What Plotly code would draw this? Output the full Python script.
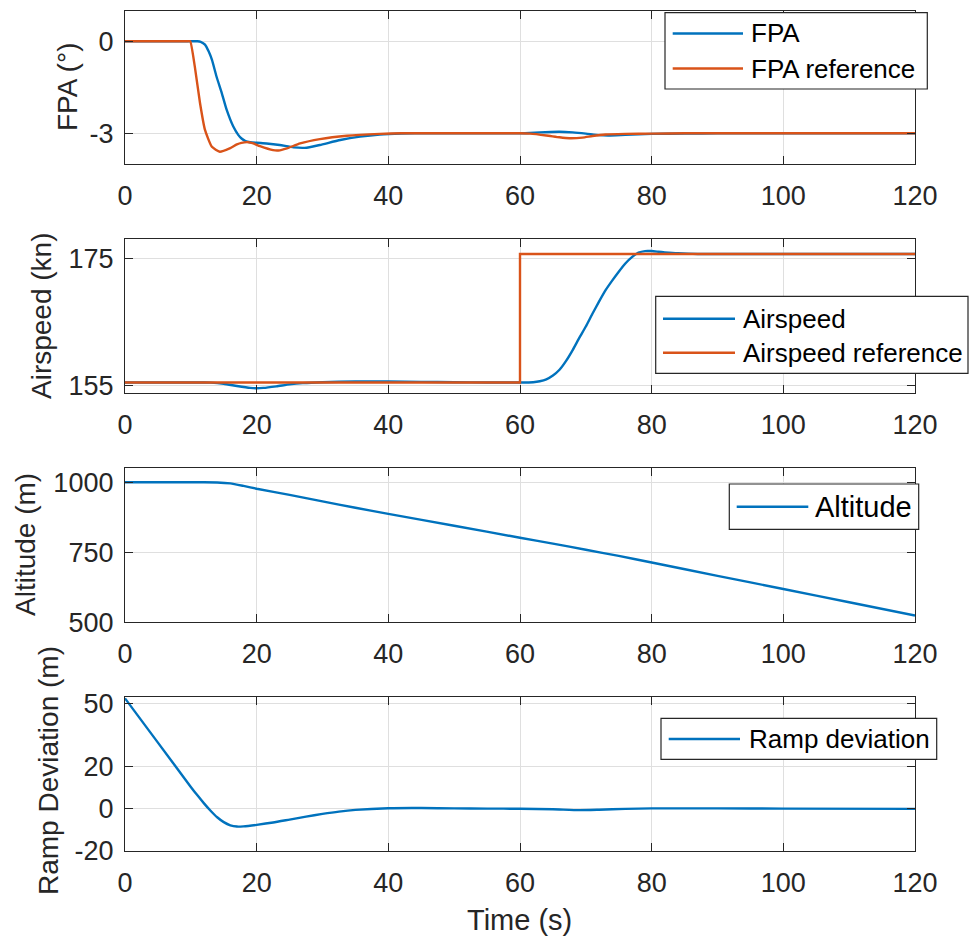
import plotly.graph_objects as go

# ---------------- data ----------------
fpa_t = [0, 5, 9, 10, 10.6, 11, 11.5, 12.15, 12.7, 13.2, 13.9, 14.7, 15.45, 16.45, 17.2, 17.7, 18.3, 19, 20, 21.5,
         23.5, 25.6, 27.6, 29.6, 32.7, 35.7, 38.7, 42, 46, 50, 55, 60, 61.5, 63, 66, 68, 70, 72, 73.5,
         76, 80, 85, 90, 100, 110, 120]
fpa_v = [0, 0, 0, 0, 0, 0, -0.02, -0.11, -0.33, -0.6, -1.15, -1.69, -2.24, -2.78, -3.05, -3.17, -3.25, -3.29,
         -3.31, -3.33, -3.38, -3.46, -3.47, -3.38, -3.22, -3.11, -3.04, -3.01, -3.0, -3.0, -3.0, -3.0,
         -2.99, -2.97, -2.95, -2.97, -3.01, -3.06, -3.07, -3.05, -3.02, -3.01, -3.0, -3.0, -3.0, -3.0]

fpa_ref_t = [0, 5, 9, 9.6, 9.9, 10.6, 11.4, 12.15, 13.2, 14.4, 15.9, 17.0, 17.7, 18.7, 19.5, 20.5, 22.5, 23.3,
             24.6, 26.6, 29.6, 33.7, 38.7, 42, 50, 55, 60, 61.5, 64, 66, 67.5, 69.5, 71, 73, 76, 80, 85,
             90, 100, 110, 120]
fpa_ref_v = [0, 0, 0, 0, 0, -0.82, -2.02, -2.89, -3.44, -3.6, -3.49, -3.36, -3.31, -3.29, -3.33, -3.42, -3.55,
             -3.56, -3.49, -3.33, -3.19, -3.08, -3.02, -3.0, -3.0, -3.0, -3.0, -3.01, -3.07, -3.13, -3.16,
             -3.14, -3.09, -3.04, -3.02, -3.01, -3.0, -3.0, -3.0, -3.0, -3.0]

as_t = [0, 6, 12, 13, 15, 17, 19, 20, 21, 23, 25, 27, 30, 35, 40, 45, 50, 55, 60, 62, 63, 64, 65, 66, 67,
        68, 69, 70, 71, 72, 73, 74, 75, 76, 77, 78, 79, 80, 81, 82, 84, 87, 95, 105, 120]
as_v = [155.5, 155.5, 155.5, 155.48, 155.3, 154.95, 154.65, 154.6, 154.65, 154.9, 155.2, 155.4, 155.55,
        155.65, 155.65, 155.6, 155.55, 155.5, 155.5, 155.55, 155.7, 156.0, 156.6, 157.5, 158.9, 160.6,
        162.5, 164.3, 166.3, 168.2, 170.0, 171.5, 172.9, 174.2, 175.2, 175.9, 176.15, 176.15, 176.05,
        175.95, 175.8, 175.7, 175.7, 175.7, 175.7]

as_ref_t = [0, 60, 60, 120]
as_ref_v = [155.5, 155.5, 175.7, 175.7]

alt_t = [0, 6, 12, 14, 16, 18, 20, 25, 30, 35, 40, 50, 60, 65, 70, 75, 80, 90, 100, 110, 120]
alt_v = [1000, 1000, 1000, 999.5, 996, 987, 977, 955, 932, 909, 887, 845, 802, 781, 759, 737, 713.5,
         666, 619, 571.5, 524]

ramp_t = [0, 5, 10, 11, 12, 13, 14, 15, 16, 17, 18, 20, 22.5, 25, 27.5, 30, 32.5, 35, 40, 45, 50,
          55, 60, 65, 69, 72, 76, 80, 90, 100, 120]
ramp_v = [52.4, 31.4, 10.4, 6.4, 2.6, -0.9, -4.0, -6.3, -7.8, -8.4, -8.3, -7.6, -6.5, -5.1, -3.7,
          -2.4, -1.3, -0.5, 0.3, 0.4, 0.2, 0.1, 0.05, -0.2, -0.6, -0.4, 0.0, 0.2, 0.2, 0.1, 0.0]

x_ticks = [0, 20, 40, 60, 80, 100, 120]
fpa_ticks = [0, -3]
fpa_ticklabels = ["0", "-3"]
as_ticks = [155, 175]
as_ticklabels = ["155", "175"]
alt_ticks = [500, 750, 1000]
alt_ticklabels = ["500", "750", "1000"]
ramp_ticks = [-20, 0, 20, 50]
ramp_ticklabels = ["-20", "0", "20", "50"]

BLUE = "#0072BD"
ORANGE = "#D95319"
AX = "#262626"
GRID = "#dfdfdf"
FONT = "Liberation Sans, Arial, Helvetica, sans-serif"

W, H = 969, 939
ML, MR, MT, MB = 125, 54, 10, 88
PW = W - ML - MR
PH = H - MT - MB


def py(ypix):
    return (H - MB - ypix) / PH


def px(xpix):
    return (xpix - ML) / PW


fig = go.Figure()

lw = 2.4
sp = dict(shape="spline", smoothing=0.5)
fig.add_trace(go.Scatter(x=fpa_t, y=fpa_v, mode="lines", name="FPA", line=dict(color=BLUE, width=lw, **sp), xaxis="x", yaxis="y", showlegend=False))
fig.add_trace(go.Scatter(x=fpa_ref_t, y=fpa_ref_v, mode="lines", name="FPA reference", line=dict(color=ORANGE, width=lw, **sp), xaxis="x", yaxis="y", showlegend=False))
fig.add_trace(go.Scatter(x=as_t, y=as_v, mode="lines", name="Airspeed", line=dict(color=BLUE, width=lw, **sp), xaxis="x2", yaxis="y2", showlegend=False))
fig.add_trace(go.Scatter(x=as_ref_t, y=as_ref_v, mode="lines", name="Airspeed reference", line=dict(color=ORANGE, width=lw), xaxis="x2", yaxis="y2", showlegend=False))
fig.add_trace(go.Scatter(x=alt_t, y=alt_v, mode="lines", name="Altitude", line=dict(color=BLUE, width=lw, **sp), xaxis="x3", yaxis="y3", showlegend=False))
fig.add_trace(go.Scatter(x=ramp_t, y=ramp_v, mode="lines", name="Ramp deviation", line=dict(color=BLUE, width=lw, **sp), xaxis="x4", yaxis="y4", showlegend=False))

# domains (pixel tops/bottoms)
boxes = [(10.5, 164), (239.3, 393), (468.3, 622.3), (697.3, 851)]
yranges = [[-4, 1], [153.85, 178.0], [500, 1050], [-20, 52.9]]
yticks = [(fpa_ticks, fpa_ticklabels), (as_ticks, as_ticklabels), (alt_ticks, alt_ticklabels), (ramp_ticks, ramp_ticklabels)]
ytitles = ["FPA (°)", "Airspeed (kn)", "Altitude (m)", "Ramp Deviation (m)"]
ytitle_pos = [(67, 87), (41, 316), (25, 545), (48, 771)]

common = dict(showline=True, mirror="ticks", linecolor=AX, linewidth=1.3, ticks="inside",
              ticklen=8, tickwidth=1.3, tickcolor=AX, showgrid=True, gridcolor=GRID, gridwidth=1,
              zeroline=False, automargin=False, tickfont=dict(family=FONT, size=27, color=AX))

for i in range(4):
    sfx = "" if i == 0 else str(i + 1)
    top, bot = boxes[i]
    xa = dict(common)
    xa.update(domain=[0, 1], range=[0, 120], tickvals=x_ticks, anchor="y" + sfx, ticklabelstandoff=7)
    ya = dict(common)
    ya.update(domain=[py(bot), py(top)], range=yranges[i], tickvals=yticks[i][0],
              ticktext=yticks[i][1], anchor="x" + sfx, ticklabelstandoff=5)
    fig.layout["xaxis" + sfx] = xa
    fig.layout["yaxis" + sfx] = ya

annotations = []
for (tx, ty), label in zip(ytitle_pos, ytitles):
    annotations.append(dict(text=label, xref="paper", yref="paper", x=px(tx), y=py(ty), xanchor="center",
                            yanchor="middle", textangle=-90, showarrow=False,
                            font=dict(family=FONT, size=28, color=AX)))
annotations.append(dict(text="Time (s)", xref="paper", yref="paper", x=px(519), y=py(920), xanchor="center",
                        yanchor="middle", showarrow=False, font=dict(family=FONT, size=29, color=AX)))

# manual MATLAB-style legends
legends = [
    dict(box=(665, 12.7, 927.3, 89), line=(672.7, 743), text_x=749.3, size=26,
         items=[("FPA", BLUE, 33.5), ("FPA reference", ORANGE, 68.5)]),
    dict(box=(655.7, 296.3, 968, 373.3), line=(663, 735), text_x=740.7, size=26,
         items=[("Airspeed", BLUE, 318.7), ("Airspeed reference", ORANGE, 352.7)]),
    dict(box=(729.3, 484, 918.7, 529.3), line=(736.7, 808.3), text_x=813.3, size=29,
         items=[("Altitude", BLUE, 506.7)]),
    dict(box=(661, 718.3, 936.7, 759.3), line=(668.7, 740), text_x=746.7, size=26,
         items=[("Ramp deviation", BLUE, 739)]),
]
shapes = []
for lg in legends:
    x0, y0, x1, y1 = lg["box"]
    shapes.append(dict(type="rect", xref="paper", yref="paper", x0=px(x0), x1=px(x1), y0=py(y1), y1=py(y0),
                       line=dict(color=AX, width=1.2), fillcolor="white", layer="above"))
    for label, col, yy in lg["items"]:
        shapes.append(dict(type="line", xref="paper", yref="paper", x0=px(lg["line"][0]), x1=px(lg["line"][1]),
                           y0=py(yy), y1=py(yy), line=dict(color=col, width=2.4), layer="above"))
        annotations.append(dict(text=label, xref="paper", yref="paper", x=px(lg["text_x"]), y=py(yy),
                                xanchor="left", yanchor="middle", showarrow=False,
                                font=dict(family=FONT, size=lg["size"], color="black")))

fig.update_layout(width=W, height=H, margin=dict(l=ML, r=MR, t=MT, b=MB, autoexpand=False),
                  paper_bgcolor="white", plot_bgcolor="white", shapes=shapes, annotations=annotations,
                  font=dict(family=FONT, color=AX), showlegend=False)

fig.write_html("out.html")
